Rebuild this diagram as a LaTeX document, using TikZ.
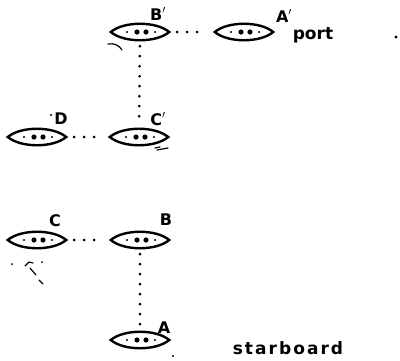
\documentclass[tikz,border=0pt]{standalone}
\usepackage{fontspec}
\setmainfont{DejaVu Sans}
\newfontfamily\portfont{DejaVu Sans}
\newfontfamily\starfont[LetterSpace=12]{DejaVu Sans}
\begin{document}
\begin{tikzpicture}[x=1pt,y=-1pt,
  lens/.style={minimum width=58pt,minimum height=12pt,inner sep=0pt,draw=none},
  lensline/.style={line width=2.4pt,black},
  dotline/.style={line width=3pt,line cap=round,dash pattern=on 0pt off 10pt,shorten >=8pt,shorten <=8pt},
  lab/.style={font=\fontsize{16}{16}\selectfont\bfseries,inner sep=0pt},
  straymark/.style={line width=1.2pt,line cap=round}]
\useasboundingbox (0,0) rectangle (400,360);
% lenses
\node[lens] (Bp) at (140,32) {};
\node[lens] (Ap) at (244,32) {};
\node[lens] (Cp) at (139,137) {};
\node[lens] (D)  at (37,137) {};
\node[lens] (C)  at (37,240) {};
\node[lens] (B)  at (140,240) {};
\node[lens] (A)  at (140,340) {};
\foreach \n in {Bp,Ap,Cp,D,C,B,A}{
  \draw[lensline] (\n.west) .. controls ([xshift=13pt,yshift=11pt]\n.west) and ([xshift=-13pt,yshift=11pt]\n.east) .. (\n.east)
    .. controls ([xshift=-13pt,yshift=-11pt]\n.east) and ([xshift=13pt,yshift=-11pt]\n.west) .. cycle;
  \fill ([xshift=-13pt]\n.center) circle (1.2pt);
  \fill ([xshift=-3pt]\n.center) circle (2.6pt);
  \fill ([xshift=6pt]\n.center) circle (2.6pt);
  \fill ([xshift=15pt]\n.center) circle (1.2pt);
}
% dotted connectors
\draw[dotline] (Bp) -- (Ap);
\draw[dotline] (Bp) -- (Cp);
\draw[dotline] (D) -- (Cp);
\draw[dotline] (C) -- (B);
\draw[dotline] (B) -- (A);
% labels
\node[lab] (lBp) at (158,14) {B$'$};
\node[lab] (lAp) at (284,16) {A$'$};
\node[lab] (lCp) at (158,119) {C$'$};
\node[lab] (lD) at (61,119) {D};
\node[lab] (lC) at (55,221) {C};
\node[lab] (lB) at (166,220) {B};
\node[lab] (lA) at (164,328) {A};
\node[inner sep=0pt,font=\portfont\bfseries\fontsize{17}{17}\selectfont] (port) at (313,35) {port};
\node[inner sep=0pt,font=\starfont\bfseries\fontsize{17}{17}\selectfont] (star) at (288,348) {starboard};
% stray marks
\fill (51,115) circle (1.2pt);
\fill (396,37) circle (1.6pt);
\fill (173,356) circle (1.2pt);
\draw[straymark] (108,44) .. controls (114,43) and (119,45) .. (122,50);
\draw[straymark] (155,148) -- (160,147) (157,150) -- (168,148);
\fill (12,264) circle (1pt);
\fill (42,262) circle (1pt);
\draw[straymark] (25,266) -- (29,262) -- (33,263);
\draw[straymark] (30,268) -- (36,275);
\draw[straymark] (39,280) -- (43,284);
\end{tikzpicture}
\end{document}
